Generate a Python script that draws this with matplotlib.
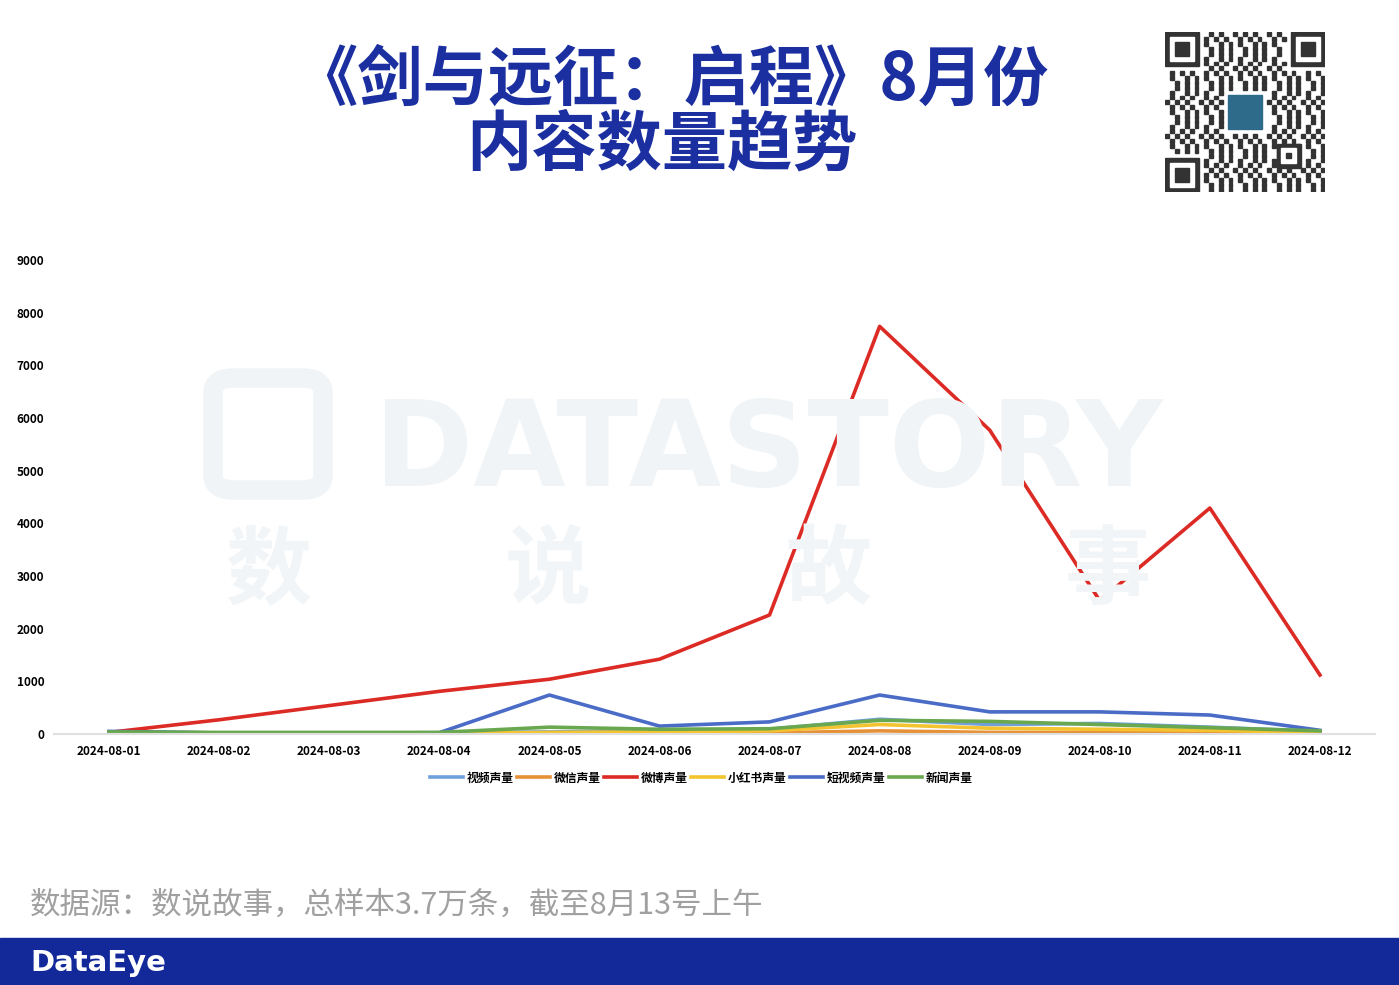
import matplotlib
matplotlib.use('Agg')
import matplotlib.pyplot as plt
from matplotlib.patches import Rectangle, FancyBboxPatch

plt.rcParams['font.family'] = ['Noto Sans CJK SC', 'DejaVu Sans']

dates = ['2024-08-01', '2024-08-02', '2024-08-03', '2024-08-04', '2024-08-05', '2024-08-06',
         '2024-08-07', '2024-08-08', '2024-08-09', '2024-08-10', '2024-08-11', '2024-08-12']

video = [40, 20, 20, 20, 40, 60, 90, 280, 180, 200, 130, 50]
wechat = [10, 5, 5, 5, 10, 15, 20, 60, 30, 30, 25, 10]
weibo = [30, 270, 540, 810, 1040, 1420, 2260, 7740, 5770, 2530, 4290, 1120]
xhs = [15, 10, 10, 10, 30, 40, 60, 180, 110, 90, 70, 30]
short_video = [50, 20, 20, 25, 740, 150, 230, 740, 420, 420, 360, 70]
news = [40, 30, 30, 30, 130, 90, 100, 260, 240, 180, 120, 60]

series = [
    ('视频声量', video, '#6fa0dc'),
    ('微信声量', wechat, '#e69138'),
    ('微博声量', weibo, '#dc2a24'),
    ('小红书声量', xhs, '#f4c430'),
    ('短视频声量', short_video, '#4a6cc7'),
    ('新闻声量', news, '#6aa84f'),
]

W, H = 1399, 985
fig = plt.figure(figsize=(W / 100, H / 100), dpi=100)

# watermark
wm = '#f0f4f6'
fig.patches.append(FancyBboxPatch((213 / W, 1 - 490 / H), 110 / W, 112 / H,
                                  boxstyle='round,pad=0,rounding_size=0.015',
                                  transform=fig.transFigure, fc='none', ec=wm, lw=14, zorder=0))
fig.text(768 / W, 1 - 453 / H, 'DATASTORY', fontsize=86, fontweight='bold',
         color=wm, ha='center', va='center', family='DejaVu Sans', zorder=0)
for x, ch in zip([268, 548, 828, 1108], '数说故事'):
    fig.text(x / W, 1 - 572 / H, ch, fontsize=62, fontweight='bold',
             color='#f2f5f7', ha='center', va='center', zorder=0)

ax = fig.add_axes([54 / W, 1 - 734 / H, (1375 - 54) / W, (734 - 260) / H])
ax.patch.set_alpha(0)
xs = list(range(len(dates)))
for name, vals, col in series:
    ax.plot(xs, vals, color=col, lw=2.6, label=name)

ax.set_xlim(-0.5, 11.5)
ax.set_ylim(0, 9000)
ax.set_yticks(range(0, 9001, 1000))
ax.set_xticks(xs)
ax.set_xticklabels(dates)
for s in ['top', 'right', 'left']:
    ax.spines[s].set_visible(False)
ax.spines['bottom'].set_color('#e0e0e0')
ax.spines['bottom'].set_linewidth(1.5)
ax.tick_params(length=0, labelsize=8.5, pad=8)
ax.tick_params(axis='y', pad=7)
for lab in ax.get_xticklabels() + ax.get_yticklabels():
    lab.set_fontweight('bold')

leg = ax.legend(loc='center', bbox_to_anchor=(0.49, -0.093), ncol=6, frameon=False,
                prop={'size': 8.5, 'weight': 'bold'}, handlelength=2.8,
                columnspacing=0.3, handletextpad=0.3)

# title
fig.text(670 / W, 1 - 80 / H, '《剑与远征：启程》8月份', fontsize=47, fontweight='bold',
         color='#1b2fa0', ha='center', va='center')
fig.text(662 / W, 1 - 145 / H, '内容数量趋势', fontsize=47, fontweight='bold',
         color='#1b2fa0', ha='center', va='center')

# qr code placeholder
qax = fig.add_axes([1165 / W, 1 - 192 / H, 160 / W, 160 / H])
n = 33
qax.set_xlim(0, n)
qax.set_ylim(n, 0)
qax.axis('off')
for i in range(n):
    for j in range(n):
        if (i < 8 and j < 8) or (i < 8 and j > n - 9) or (i > n - 9 and j < 8):
            continue
        if 12 <= i <= 20 and 12 <= j <= 20:
            continue
        if (i * i * 3 + j * 11 + i * j * 7) % 7 < 3:
            qax.add_patch(Rectangle((j + 0.1, i + 0.1), 0.8, 0.8, color='#333333'))
for (r, c) in [(0, 0), (0, n - 7), (n - 7, 0)]:
    qax.add_patch(Rectangle((c, r), 7, 7, color='#333333'))
    qax.add_patch(Rectangle((c + 1, r + 1), 5, 5, color='white'))
    qax.add_patch(Rectangle((c + 2, r + 2), 3, 3, color='#333333'))
qax.add_patch(Rectangle((23, 23), 5, 5, color='#333333'))
qax.add_patch(Rectangle((24, 24), 3, 3, color='white'))
qax.add_patch(Rectangle((25, 25), 1, 1, color='#333333'))
qax.add_patch(Rectangle((13, 13), 7, 7, color='#2e6b8a'))

# source note
fig.text(30 / W, 1 - 905 / H, '数据源：数说故事，总样本3.7万条，截至8月13号上午',
         fontsize=22, color='#a0a0a0', ha='left', va='center')

# bottom band
fig.patches.append(Rectangle((0, 0), 1, 47 / H, transform=fig.transFigure,
                             color='#13299a', zorder=1))
fig.text(30 / W, 1 - 963 / H, 'DataEye', fontsize=21, fontweight='bold',
         color='white', ha='left', va='center', family='DejaVu Sans', zorder=2)

fig.savefig('out.png', dpi=100)
